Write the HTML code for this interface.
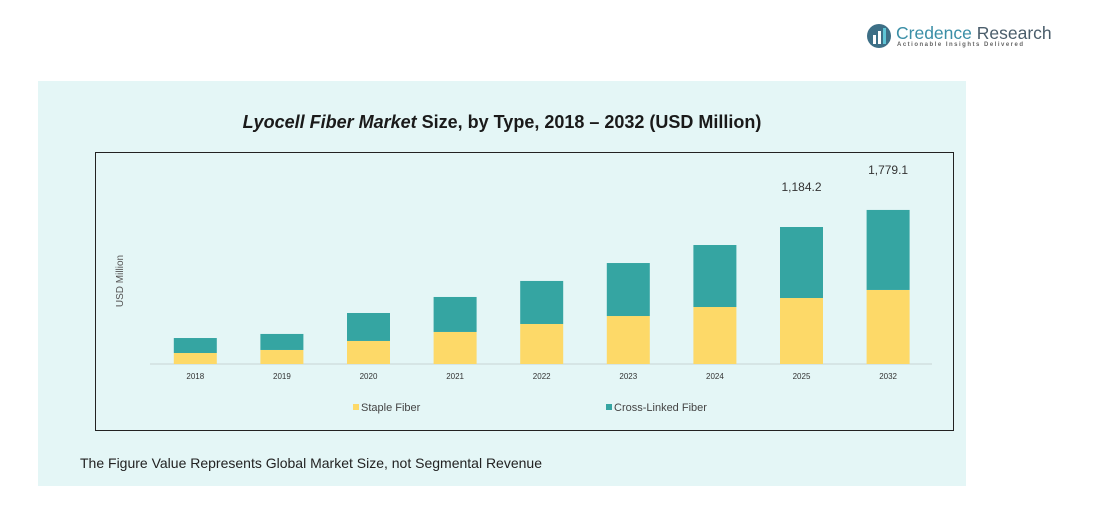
<!DOCTYPE html>
<html><head><meta charset="utf-8"><style>
body{margin:0;width:1102px;height:530px;background:#fff;font-family:"Liberation Sans",sans-serif;position:relative;overflow:hidden}
#panel{position:absolute;left:38px;top:81px;width:928px;height:405px;background:#e4f6f6}
#title{position:absolute;left:38px;top:112px;width:928px;text-align:center;font-size:18px;font-weight:bold;color:#1a1a1a}
#frame{position:absolute;left:95px;top:152px;width:857px;height:277px;border:1px solid #222}
#foot{position:absolute;left:80px;top:455px;font-size:14px;color:#222}
</style></head><body>
<div id="logo" style="position:absolute;left:865px;top:22px;">
<svg width="28" height="28"><circle cx="14" cy="14" r="12" fill="#3d6f86"/><rect x="8" y="13" width="3" height="9" fill="#fff"/><rect x="13" y="9" width="3" height="13" fill="#fff"/><rect x="18" y="6" width="3" height="16" fill="#5fc5d6"/></svg>
<span style="position:absolute;left:31px;top:1px;font-size:17.5px;color:#3a8ea6;white-space:nowrap">Credence <span style="color:#4a5d6b">Research</span></span>
<span style="position:absolute;left:32px;top:20px;font-size:6px;letter-spacing:1.5px;color:#666;white-space:nowrap;font-weight:bold">Actionable Insights Delivered</span>
</div>
<div id="panel"></div>
<div id="title"><i>Lyocell Fiber Market</i> Size, by Type, 2018 – 2032 (USD Million)</div>
<div id="frame"></div>
<svg id="chart" width="1102" height="530" style="position:absolute;left:0;top:0"></svg>
<div id="foot">The Figure Value Represents Global Market Size, not Segmental Revenue</div>
<script>
const categories=["2018","2019","2020","2021","2022","2023","2024","2025","2032"];
const stapleValues=[127,162,266,370,462,554,658,762,855];
const crossValues=[173,185,323,404,497,612,716,820,924];
const totalLabels=["","","","","","","","1,184.2","1,779.1"];
const NS="http://www.w3.org/2000/svg";
const svg=document.getElementById('chart');
const baseY=364,kY=0.0866,x0=152,band=86.6,bw=43;
const xC=i=>x0+band*(i+0.5);
const yS=v=>baseY-v*kY;
function mk(t,a){const e=document.createElementNS(NS,t);for(const k in a)e.setAttribute(k,a[k]);svg.appendChild(e);return e;}
const ax=mk('line',{x1:150,x2:932,y1:baseY,y2:baseY,stroke:'#c8d4d4','stroke-width':1});


const yt=mk('text',{x:123,y:281,'font-size':10,fill:'#555','text-anchor':'middle',transform:'rotate(-90 123 281)'});
yt.textContent='USD Million';


categories.forEach((c,i)=>{
 const s=stapleValues[i],cr=crossValues[i];
 const r1=mk('rect',{x:xC(i)-bw/2,y:yS(s),width:bw,height:s*kY,fill:'#fdd968'});
 
 
 const r2=mk('rect',{x:xC(i)-bw/2,y:yS(s+cr),width:bw,height:cr*kY,fill:'#35a5a2'});
 
 
 const t=mk('text',{x:xC(i),y:379,'font-size':8,fill:'#333','text-anchor':'middle'});
 t.textContent=c;
 
 
 if(totalLabels[i]){
  const l=mk('text',{x:xC(i),y:yS(s+cr)-36,'font-size':12,fill:'#333','text-anchor':'middle'});
  l.textContent=totalLabels[i];
  
  
 }
});
const lg=[["Staple Fiber","#fdd968",353],["Cross-Linked Fiber","#35a5a2",606]];
lg.forEach(([n,col,x])=>{
 const r=mk('rect',{x:x,y:404,width:6,height:6,fill:col});
 
 
 const t=mk('text',{x:x+8,y:411,'font-size':11,fill:'#444'});
 t.textContent=n;
 
 
});
</script>
</body></html>
